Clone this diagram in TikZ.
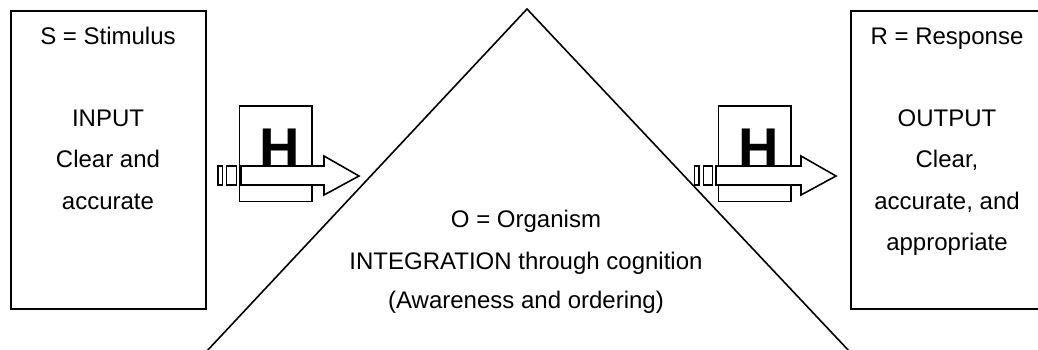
\documentclass[tikz,border=0pt]{standalone}
\usepackage{fontspec}
\setmainfont{Liberation Sans}
\tikzset{
  x=1pt,y=-1pt,
  ln/.style={draw=black,line width=1.6pt},
  frameln/.style={draw=black,line width=2pt},
  txt/.style={anchor=base,inner sep=0pt,font=\fontsize{24}{24}\selectfont},
  hbox/.style={ln,fill=white},
  hlet/.style={anchor=base,inner sep=0pt,font=\fontsize{56}{56}\selectfont\bfseries},
  arrowbody/.style={ln,fill=white,line join=miter}
}
\begin{document}
\begin{tikzpicture}
\useasboundingbox (0,0) rectangle (1038,349);
\clip (0,0) rectangle (1038,349);
% boxes
\draw[frameln] (11,10.5) rectangle (205.5,308.5);
\draw[frameln] (850.5,10.5) rectangle (1050,308.5);
% left H block
\draw[hbox] (239.5,106) rectangle (312,201.5);
\node[hlet] (hl) at (279.5,167) {H};
\draw[arrowbody] (241,166) -- (324,166) -- (324,156) -- (359,176) -- (324,195) -- (324,185) -- (241,185) -- cycle;
\draw[ln,fill=white] (218,166) rectangle (222.5,185);
\draw[ln,fill=white] (226.5,166) rectangle (236.5,185);
% right H block
\draw[hbox] (718.5,106) rectangle (791,201.5);
\node[hlet] (hr) at (758.5,167) {H};
\draw[arrowbody] (716,166) -- (801,166) -- (801,156) -- (836,176) -- (801,195) -- (801,185) -- (716,185) -- cycle;
\draw[ln,fill=white] (694.5,166) rectangle (699,185);
\draw[ln,fill=white] (703.5,166) rectangle (712.5,185);
% triangle
\draw[ln,line join=miter] (206,352) -- (527,9) -- (850,352);
% texts
\node[txt] (s1) at (108,44) {S = Stimulus};
\node[txt] (s2) at (108,126.7) {INPUT};
\node[txt] (s3) at (108,167.7) {Clear and};
\node[txt] (s4) at (108,209) {accurate};
\node[txt] (r1) at (947,44) {R = Response};
\node[txt] (r2) at (947,126.7) {OUTPUT};
\node[txt] (r3) at (947,167.7) {Clear,};
\node[txt] (r4) at (947,209) {accurate, and};
\node[txt] (r5) at (947,250) {appropriate};
\node[txt] (o1) at (526,227) {O = Organism};
\node[txt] (o2) at (526,269) {INTEGRATION through cognition};
\node[txt] (o3) at (526,308.5) {(Awareness and ordering)};
\end{tikzpicture}
\end{document}
